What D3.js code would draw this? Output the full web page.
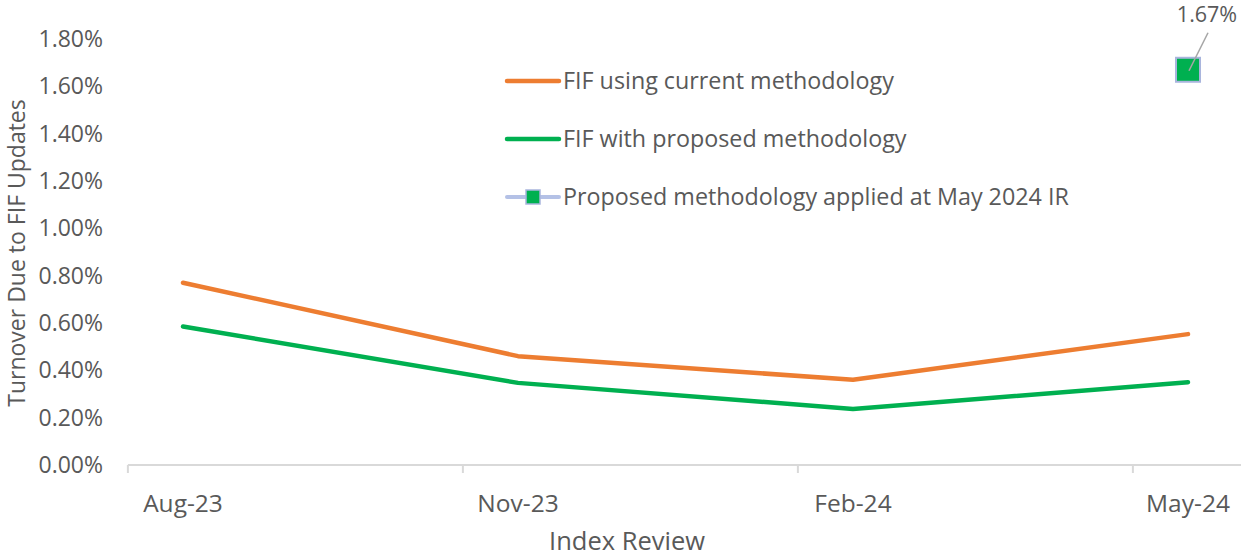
<html>
<head>
<script src="https://cdn.jsdelivr.net/npm/d3@7"></script>
<style>
  body { margin: 0; background: #fff; }
  text { font-family: "Open Sans", sans-serif; fill: #595959; }
</style>
</head>
<body>
<script>
var width = 1241,
    height = 556;

// data
var reviews = ["Aug-23", "Nov-23", "Feb-24", "May-24"];
var currentMethod = [0.77, 0.46, 0.36, 0.553];
var proposedMethod = [0.585, 0.347, 0.237, 0.35];
var appliedMay = [null, null, null, 1.67];
var yTicks = [0, 0.2, 0.4, 0.6, 0.8, 1.0, 1.2, 1.4, 1.6, 1.8];
var legendNames = ["FIF using current methodology", "FIF with proposed methodology", "Proposed methodology applied at May 2024 IR"];

var orange = "#ED7D31", green = "#00B050", markerEdge = "#A9B5DD";

var svg = d3.select("body").append("svg")
    .attr("width", width)
    .attr("height", height);

var x = d3.scaleLinear().domain([0, reviews.length - 1]).range([183, 1188]);
var y = d3.scaleLinear().domain([0, 1.8]).range([465, 39]);
var tickShift = 0.1645; // date axis: ticks sit before each point

// x axis line and ticks
svg.append("line")
    .attr("x1", x(-tickShift)).attr("x2", width)
    .attr("y1", y(0)).attr("y2", y(0))
    .attr("stroke", "#D9D9D9").attr("stroke-width", 2);

svg.selectAll(".xtick").data(reviews).enter().append("line")
    .attr("x1", function(d, i) { return x(i - tickShift); })
    .attr("x2", function(d, i) { return x(i - tickShift); })
    .attr("y1", y(0)).attr("y2", y(0) + 8)
    .attr("stroke", "#D9D9D9").attr("stroke-width", 2);

svg.selectAll(".xlab").data(reviews).enter().append("text")
    .attr("x", function(d, i) { return x(i); })
    .attr("y", 512)
    .attr("text-anchor", "middle")
    .style("font-size", "24.5px")
    .text(function(d) { return d; });

// y tick labels
svg.selectAll(".ylab").data(yTicks).enter().append("text")
    .attr("x", 103)
    .attr("y", function(d) { return y(d); })
    .attr("dy", "0.35em")
    .attr("text-anchor", "end")
    .style("font-size", "23px")
    .text(function(d) { return d.toFixed(2) + "%"; });

// axis titles
svg.append("text")
    .attr("transform", "translate(25," + 253 + ") rotate(-90)")
    .attr("text-anchor", "middle")
    .style("font-size", "23px")
    .text("Turnover Due to FIF Updates");

svg.append("text")
    .attr("x", 627).attr("y", 550)
    .attr("text-anchor", "middle")
    .style("font-size", "25.5px")
    .text("Index Review");

// lines
var line = d3.line()
    .x(function(d, i) { return x(i); })
    .y(function(d) { return y(d); });

svg.append("path").datum(currentMethod)
    .attr("d", line)
    .attr("fill", "none").attr("stroke", orange)
    .attr("stroke-width", 4.5).attr("stroke-linecap", "round").attr("stroke-linejoin", "round");

svg.append("path").datum(proposedMethod)
    .attr("d", line)
    .attr("fill", "none").attr("stroke", green)
    .attr("stroke-width", 4.5).attr("stroke-linecap", "round").attr("stroke-linejoin", "round");

// marker for May 2024 IR
var applied = appliedMay.map(function(v, i) { return {i: i, v: v}; })
    .filter(function(d) { return d.v !== null; });

svg.selectAll(".mark").data(applied).enter().append("rect")
    .attr("x", function(d) { return x(d.i) - 12; })
    .attr("y", function(d) { return y(d.v) - 12; })
    .attr("width", 24).attr("height", 24)
    .attr("fill", green).attr("stroke", markerEdge).attr("stroke-width", 2);

svg.selectAll(".leader").data(applied).enter().append("line")
    .attr("x1", function(d) { return x(d.i) + 1; })
    .attr("y1", function(d) { return y(d.v) + 1; })
    .attr("x2", function(d) { return x(d.i) + 20; })
    .attr("y2", function(d) { return y(d.v) - 37; })
    .attr("stroke", "#A6A6A6").attr("stroke-width", 1.5);

svg.selectAll(".dlab").data(applied).enter().append("text")
    .attr("x", function(d) { return x(d.i) + 19; })
    .attr("y", function(d) { return y(d.v) - 48; })
    .attr("text-anchor", "middle")
    .style("font-size", "21.5px")
    .text(function(d) { return d.v.toFixed(2) + "%"; });

// legend
var legend = svg.selectAll(".leg").data(legendNames).enter().append("g")
    .attr("transform", function(d, i) { return "translate(505," + (81 + i * 58) + ")"; });

legend.append("line")
    .attr("x1", 2).attr("x2", 54)
    .attr("stroke", function(d, i) { return [orange, green, "#B4C1E6"][i]; })
    .attr("stroke-width", function(d, i) { return i < 2 ? 4.5 : 4; })
    .attr("stroke-linecap", "round");

legend.filter(function(d, i) { return i === 2; }).append("rect")
    .attr("x", 21).attr("y", -7).attr("width", 14).attr("height", 14)
    .attr("fill", green).attr("stroke", markerEdge).attr("stroke-width", 1.5);

legend.append("text")
    .attr("x", 58).attr("dy", "0.35em")
    .style("font-size", "23.3px")
    .text(function(d) { return d; });
</script>
</body>
</html>
